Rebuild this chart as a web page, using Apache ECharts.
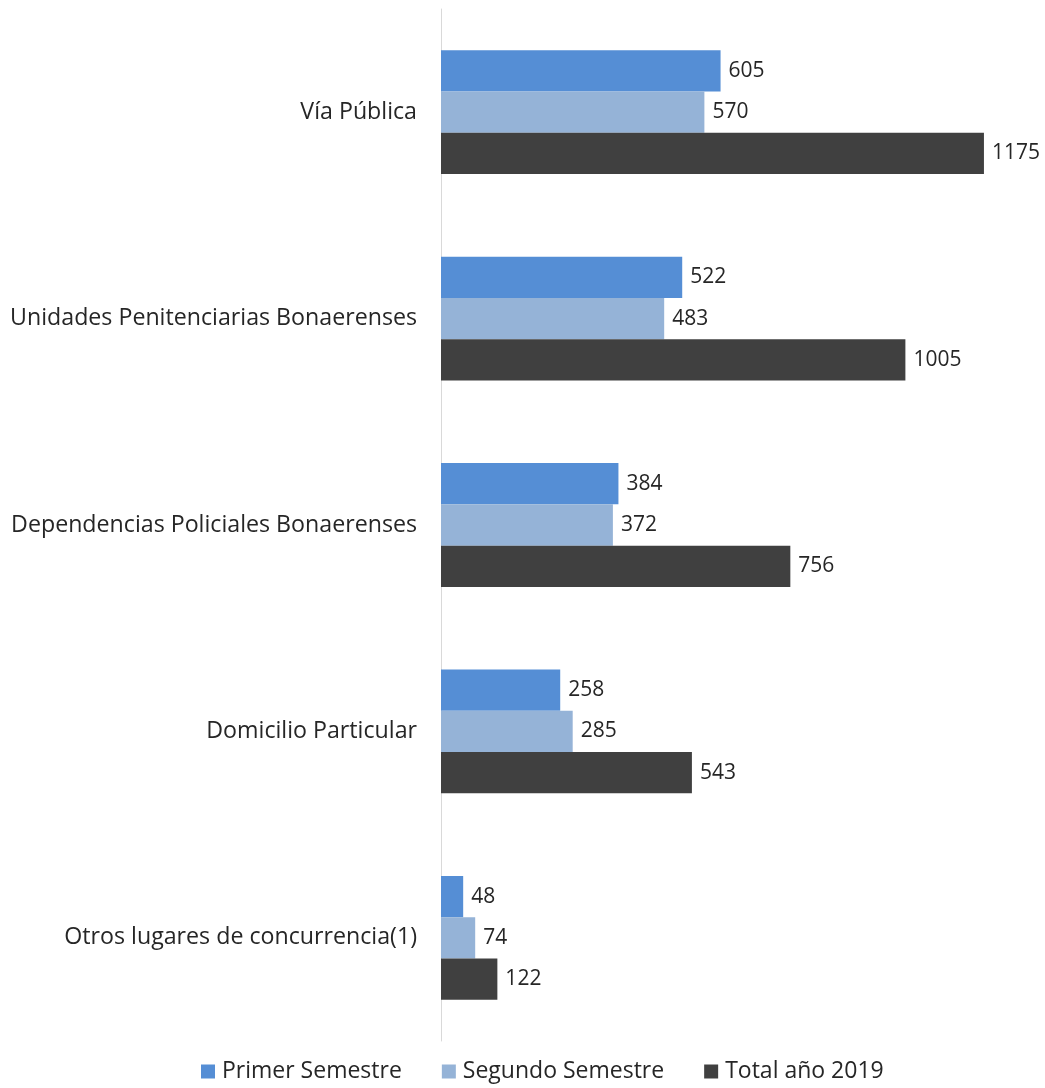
<!DOCTYPE html>
<html>
<head>
<meta charset="utf-8">
<script src="https://cdn.jsdelivr.net/npm/echarts@6/dist/echarts.min.js"></script>
<style>html,body{margin:0;padding:0;background:#fff}#c{width:1045px;height:1088px}</style>
</head>
<body>
<div id="c"></div>
<script>
const categories = ['Vía Pública', 'Unidades Penitenciarias Bonaerenses', 'Dependencias Policiales Bonaerenses', 'Domicilio Particular', 'Otros lugares de concurrencia(1)'];
const seriesNames = ['Primer Semestre', 'Segundo Semestre', 'Total año 2019'];
const primer = [605, 522, 384, 258, 48];
const segundo = [570, 483, 372, 285, 74];
const total = [1175, 1005, 756, 543, 122];
const colors = ['#558ED5', '#95B3D7', '#404040'];

const font = '"Open Sans", "Noto Sans", sans-serif';
const chart = echarts.init(document.getElementById('c'));
const mk = (name, data, color) => ({
  name, type: 'bar', data,
  barGap: '0%', barCategoryGap: '40%',
  itemStyle: { color },
  label: { show: true, position: 'right', distance: 8, color: '#262626', fontSize: 21, fontFamily: font },
  emphasis: { disabled: true }
});
chart.setOption({
  animation: false,
  textStyle: { fontFamily: font },
  grid: { left: 441, right: 49.5, top: 9, bottom: 47, containLabel: false },
  legend: {
    bottom: 0, left: 196, itemWidth: 14, itemHeight: 14, itemGap: 40,
    icon: 'rect',
    textStyle: { fontSize: 23, color: '#262626', fontFamily: font, padding: [0, 0, 0, 2] },
    data: seriesNames
  },
  xAxis: { type: 'value', min: 0, max: 1200, show: false },
  yAxis: {
    type: 'category', data: categories, inverse: true,
    axisLine: { show: true, lineStyle: { color: '#d9d9d9', width: 1 } },
    axisTick: { show: false },
    axisLabel: { fontSize: 23.2, color: '#262626', margin: 24, fontFamily: font }
  },
  series: [mk(seriesNames[0], primer, colors[0]), mk(seriesNames[1], segundo, colors[1]), mk(seriesNames[2], total, colors[2])]
});
</script>
</body>
</html>
